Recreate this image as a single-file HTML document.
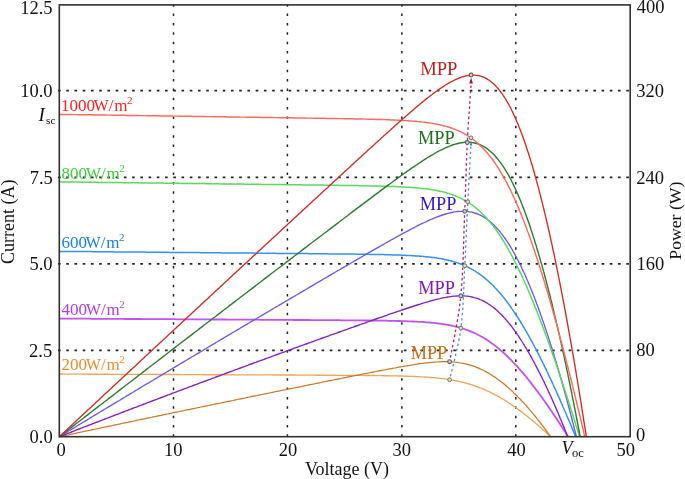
<!DOCTYPE html>
<html><head><meta charset="utf-8"><style>
html,body{margin:0;padding:0;background:#fff;}
svg{display:block;will-change:transform;}
text{font-family:"Liberation Serif",serif;}
</style></head><body>
<svg width="685" height="479" viewBox="0 0 685 479">
<rect width="685" height="479" fill="#fff"/>
<line x1="173.5" y1="4.25" x2="173.5" y2="436.70" stroke="#222" stroke-width="1.5" stroke-dasharray="2.5 6.85"/>
<line x1="287.4" y1="4.25" x2="287.4" y2="436.70" stroke="#222" stroke-width="1.5" stroke-dasharray="2.5 6.85"/>
<line x1="401.9" y1="4.25" x2="401.9" y2="436.70" stroke="#222" stroke-width="1.5" stroke-dasharray="2.5 6.85"/>
<line x1="515.8" y1="4.25" x2="515.8" y2="436.70" stroke="#222" stroke-width="1.5" stroke-dasharray="2.5 6.85"/>
<line x1="58.00" y1="90.7" x2="630.20" y2="90.7" stroke="#222" stroke-width="1.7" stroke-dasharray="2.6 5.636"/>
<line x1="58.00" y1="177.3" x2="630.20" y2="177.3" stroke="#222" stroke-width="1.7" stroke-dasharray="2.6 5.636"/>
<line x1="58.00" y1="263.8" x2="630.20" y2="263.8" stroke="#222" stroke-width="1.7" stroke-dasharray="2.6 5.636"/>
<line x1="58.00" y1="350.3" x2="630.20" y2="350.3" stroke="#222" stroke-width="1.7" stroke-dasharray="2.6 5.636"/>
<path d="M59.3,374.0 L60.8,374.0 L62.3,374.0 L63.9,374.1 L65.4,374.1 L66.9,374.1 L68.4,374.1 L70.0,374.1 L71.5,374.1 L73.0,374.1 L74.5,374.1 L76.0,374.1 L77.6,374.1 L79.1,374.1 L80.6,374.1 L82.1,374.1 L83.7,374.1 L85.2,374.1 L86.7,374.1 L88.2,374.2 L89.8,374.2 L91.3,374.2 L92.8,374.2 L94.3,374.2 L95.8,374.2 L97.4,374.2 L98.9,374.2 L100.4,374.2 L101.9,374.2 L103.5,374.2 L105.0,374.2 L106.5,374.2 L108.0,374.2 L109.5,374.2 L111.1,374.3 L112.6,374.3 L114.1,374.3 L115.6,374.3 L117.2,374.3 L118.7,374.3 L120.2,374.3 L121.7,374.3 L123.3,374.3 L124.8,374.3 L126.3,374.3 L127.8,374.3 L129.3,374.3 L130.9,374.3 L132.4,374.3 L133.9,374.4 L135.4,374.4 L137.0,374.4 L138.5,374.4 L140.0,374.4 L141.5,374.4 L143.0,374.4 L144.6,374.4 L146.1,374.4 L147.6,374.4 L149.1,374.4 L150.7,374.4 L152.2,374.4 L153.7,374.4 L155.2,374.4 L156.7,374.5 L158.3,374.5 L159.8,374.5 L161.3,374.5 L162.8,374.5 L164.4,374.5 L165.9,374.5 L167.4,374.5 L168.9,374.5 L170.5,374.5 L172.0,374.5 L173.5,374.5 L175.0,374.5 L176.5,374.5 L178.1,374.5 L179.6,374.5 L181.1,374.6 L182.6,374.6 L184.2,374.6 L185.7,374.6 L187.2,374.6 L188.7,374.6 L190.2,374.6 L191.8,374.6 L193.3,374.6 L194.8,374.6 L196.3,374.6 L197.9,374.6 L199.4,374.6 L200.9,374.6 L202.4,374.6 L204.0,374.7 L205.5,374.7 L207.0,374.7 L208.5,374.7 L210.0,374.7 L211.6,374.7 L213.1,374.7 L214.6,374.7 L216.1,374.7 L217.7,374.7 L219.2,374.7 L220.7,374.7 L222.2,374.7 L223.7,374.7 L225.3,374.7 L226.8,374.8 L228.3,374.8 L229.8,374.8 L231.4,374.8 L232.9,374.8 L234.4,374.8 L235.9,374.8 L237.4,374.8 L239.0,374.8 L240.5,374.8 L242.0,374.8 L243.5,374.8 L245.1,374.8 L246.6,374.8 L248.1,374.8 L249.6,374.9 L251.2,374.9 L252.7,374.9 L254.2,374.9 L255.7,374.9 L257.2,374.9 L258.8,374.9 L260.3,374.9 L261.8,374.9 L263.3,374.9 L264.9,374.9 L266.4,374.9 L267.9,374.9 L269.4,374.9 L270.9,374.9 L272.5,375.0 L274.0,375.0 L275.5,375.0 L277.0,375.0 L278.6,375.0 L280.1,375.0 L281.6,375.0 L283.1,375.0 L284.7,375.0 L286.2,375.0 L287.7,375.0 L289.2,375.0 L290.7,375.0 L292.3,375.0 L293.8,375.0 L295.3,375.1 L296.8,375.1 L298.4,375.1 L299.9,375.1 L301.4,375.1 L302.9,375.1 L304.4,375.1 L306.0,375.1 L307.5,375.1 L309.0,375.1 L310.5,375.1 L312.1,375.1 L313.6,375.1 L315.1,375.1 L316.6,375.2 L318.1,375.2 L319.7,375.2 L321.2,375.2 L322.7,375.2 L324.2,375.2 L325.8,375.2 L327.3,375.2 L328.8,375.2 L330.3,375.2 L331.9,375.2 L333.4,375.2 L334.9,375.2 L336.4,375.3 L337.9,375.3 L339.5,375.3 L341.0,375.3 L342.5,375.3 L344.0,375.3 L345.6,375.3 L347.1,375.3 L348.6,375.3 L350.1,375.3 L351.6,375.3 L353.2,375.4 L354.7,375.4 L356.2,375.4 L357.7,375.4 L359.3,375.4 L360.8,375.4 L362.3,375.4 L363.8,375.4 L365.4,375.5 L366.9,375.5 L368.4,375.5 L369.9,375.5 L371.4,375.5 L373.0,375.5 L374.5,375.5 L376.0,375.6 L377.5,375.6 L379.1,375.6 L380.6,375.6 L382.1,375.6 L383.6,375.7 L385.1,375.7 L386.7,375.7 L388.2,375.7 L389.7,375.8 L391.2,375.8 L392.8,375.8 L394.3,375.9 L395.8,375.9 L397.3,375.9 L398.8,376.0 L400.4,376.0 L401.9,376.0 L403.4,376.1 L404.9,376.1 L406.5,376.2 L408.0,376.2 L409.5,376.3 L411.0,376.3 L412.6,376.4 L414.1,376.5 L415.6,376.5 L417.1,376.6 L418.6,376.7 L420.2,376.8 L421.7,376.8 L423.2,376.9 L424.7,377.0 L426.3,377.1 L427.8,377.2 L429.3,377.4 L430.8,377.5 L432.3,377.6 L433.9,377.7 L435.4,377.9 L436.9,378.0 L438.4,378.2 L440.0,378.4 L441.5,378.5 L443.0,378.7 L444.5,378.9 L446.1,379.1 L447.6,379.4 L449.1,379.6 L450.6,379.9 L452.1,380.1 L453.7,380.4 L455.2,380.7 L456.7,381.0 L458.2,381.3 L459.8,381.6 L461.3,382.0 L462.8,382.3 L464.3,382.7 L465.8,383.1 L467.4,383.6 L468.9,384.0 L470.4,384.4 L471.9,384.9 L473.5,385.4 L475.0,385.9 L476.5,386.5 L478.0,387.0 L479.5,387.6 L481.1,388.2 L482.6,388.8 L484.1,389.5 L485.6,390.1 L487.2,390.8 L488.7,391.5 L490.2,392.2 L491.7,393.0 L493.3,393.8 L494.6,394.5 L495.9,395.2 L497.2,395.9 L498.6,396.6 L499.9,397.4 L501.2,398.2 L502.6,399.0 L503.9,399.8 L505.2,400.6 L506.6,401.4 L507.9,402.3 L509.2,403.2 L510.6,404.0 L511.9,404.9 L513.2,405.9 L514.6,406.8 L515.9,407.7 L517.2,408.7 L518.6,409.7 L519.9,410.6 L521.2,411.6 L522.6,412.7 L523.9,413.7 L525.2,414.7 L526.6,415.8 L527.9,416.8 L529.2,417.9 L530.6,419.0 L531.9,420.1 L533.2,421.2 L534.6,422.3 L535.9,423.5 L537.0,424.4 L538.2,425.4 L539.3,426.4 L540.5,427.4 L541.6,428.4 L542.7,429.5 L543.9,430.5 L545.0,431.5 L546.2,432.6 L547.3,433.6 L548.4,434.7 L549.6,435.7 L550.6,436.7" fill="none" stroke="#f0a45a" stroke-width="1.35"/>
<path d="M59.3,436.7 L60.8,436.4 L62.3,436.1 L63.9,435.7 L65.4,435.4 L66.9,435.1 L68.4,434.8 L70.0,434.4 L71.5,434.1 L73.0,433.8 L74.5,433.5 L76.0,433.2 L77.6,432.8 L79.1,432.5 L80.6,432.2 L82.1,431.9 L83.7,431.5 L85.2,431.2 L86.7,430.9 L88.2,430.6 L89.8,430.3 L91.3,429.9 L92.8,429.6 L94.3,429.3 L95.8,429.0 L97.4,428.7 L98.9,428.3 L100.4,428.0 L101.9,427.7 L103.5,427.4 L105.0,427.1 L106.5,426.7 L108.0,426.4 L109.5,426.1 L111.1,425.8 L112.6,425.5 L114.1,425.1 L115.6,424.8 L117.2,424.5 L118.7,424.2 L120.2,423.9 L121.7,423.5 L123.3,423.2 L124.8,422.9 L126.3,422.6 L127.8,422.3 L129.3,421.9 L130.9,421.6 L132.4,421.3 L133.9,421.0 L135.4,420.7 L137.0,420.3 L138.5,420.0 L140.0,419.7 L141.5,419.4 L143.0,419.1 L144.6,418.8 L146.1,418.4 L147.6,418.1 L149.1,417.8 L150.7,417.5 L152.2,417.2 L153.7,416.8 L155.2,416.5 L156.7,416.2 L158.3,415.9 L159.8,415.6 L161.3,415.3 L162.8,414.9 L164.4,414.6 L165.9,414.3 L167.4,414.0 L168.9,413.7 L170.5,413.4 L172.0,413.0 L173.5,412.7 L175.0,412.4 L176.5,412.1 L178.1,411.8 L179.6,411.5 L181.1,411.1 L182.6,410.8 L184.2,410.5 L185.7,410.2 L187.2,409.9 L188.7,409.6 L190.2,409.3 L191.8,408.9 L193.3,408.6 L194.8,408.3 L196.3,408.0 L197.9,407.7 L199.4,407.4 L200.9,407.0 L202.4,406.7 L204.0,406.4 L205.5,406.1 L207.0,405.8 L208.5,405.5 L210.0,405.2 L211.6,404.8 L213.1,404.5 L214.6,404.2 L216.1,403.9 L217.7,403.6 L219.2,403.3 L220.7,403.0 L222.2,402.6 L223.7,402.3 L225.3,402.0 L226.8,401.7 L228.3,401.4 L229.8,401.1 L231.4,400.8 L232.9,400.5 L234.4,400.1 L235.9,399.8 L237.4,399.5 L239.0,399.2 L240.5,398.9 L242.0,398.6 L243.5,398.3 L245.1,398.0 L246.6,397.6 L248.1,397.3 L249.6,397.0 L251.2,396.7 L252.7,396.4 L254.2,396.1 L255.7,395.8 L257.2,395.5 L258.8,395.1 L260.3,394.8 L261.8,394.5 L263.3,394.2 L264.9,393.9 L266.4,393.6 L267.9,393.3 L269.4,393.0 L270.9,392.7 L272.5,392.3 L274.0,392.0 L275.5,391.7 L277.0,391.4 L278.6,391.1 L280.1,390.8 L281.6,390.5 L283.1,390.2 L284.7,389.9 L286.2,389.6 L287.7,389.2 L289.2,388.9 L290.7,388.6 L292.3,388.3 L293.8,388.0 L295.3,387.7 L296.8,387.4 L298.4,387.1 L299.9,386.8 L301.4,386.5 L302.9,386.2 L304.4,385.8 L306.0,385.5 L307.5,385.2 L309.0,384.9 L310.5,384.6 L312.1,384.3 L313.6,384.0 L315.1,383.7 L316.6,383.4 L318.1,383.1 L319.7,382.8 L321.2,382.5 L322.7,382.1 L324.2,381.8 L325.8,381.5 L327.3,381.2 L328.8,380.9 L330.3,380.6 L331.9,380.3 L333.4,380.0 L334.9,379.7 L336.4,379.4 L337.9,379.1 L339.5,378.8 L341.0,378.5 L342.5,378.2 L344.0,377.9 L345.6,377.6 L347.1,377.2 L348.6,376.9 L350.1,376.6 L351.6,376.3 L353.2,376.0 L354.7,375.7 L356.2,375.4 L357.7,375.1 L359.3,374.8 L360.8,374.5 L362.3,374.2 L363.8,373.9 L365.4,373.6 L366.9,373.3 L368.4,373.0 L369.9,372.7 L371.4,372.4 L373.0,372.1 L374.5,371.8 L376.0,371.5 L377.5,371.2 L379.1,370.9 L380.6,370.6 L382.1,370.3 L383.6,370.0 L385.1,369.8 L386.7,369.5 L388.2,369.2 L389.7,368.9 L391.2,368.6 L392.8,368.3 L394.3,368.0 L395.8,367.8 L397.3,367.5 L398.8,367.2 L400.4,366.9 L401.9,366.7 L403.4,366.4 L404.9,366.1 L406.5,365.9 L408.0,365.6 L409.5,365.4 L411.0,365.1 L412.6,364.9 L414.1,364.6 L415.6,364.4 L417.1,364.2 L418.6,363.9 L420.2,363.7 L421.7,363.5 L423.2,363.3 L424.7,363.1 L426.3,362.9 L427.8,362.8 L429.3,362.6 L430.8,362.4 L432.3,362.3 L433.9,362.2 L435.4,362.1 L436.9,362.0 L438.4,361.9 L440.0,361.8 L441.5,361.7 L443.0,361.7 L444.5,361.7 L446.1,361.7 L447.6,361.7 L449.1,361.8 L450.6,361.8 L452.1,361.9 L453.7,362.0 L455.2,362.2 L456.7,362.3 L458.2,362.5 L459.8,362.8 L461.3,363.0 L462.8,363.3 L464.3,363.6 L465.8,363.9 L467.4,364.3 L468.9,364.7 L470.4,365.2 L471.9,365.6 L473.5,366.2 L475.0,366.7 L476.5,367.3 L478.0,367.9 L479.5,368.6 L481.1,369.3 L482.6,370.0 L484.1,370.7 L485.4,371.4 L486.8,372.2 L488.1,372.9 L489.4,373.7 L490.8,374.5 L492.1,375.4 L493.4,376.2 L494.8,377.1 L496.1,378.0 L497.4,379.0 L498.8,380.0 L500.1,381.0 L501.4,382.0 L502.8,383.0 L504.1,384.1 L505.4,385.2 L506.8,386.4 L507.9,387.3 L509.1,388.4 L510.2,389.4 L511.3,390.4 L512.5,391.5 L513.6,392.6 L514.8,393.7 L515.9,394.8 L517.0,395.9 L518.2,397.1 L519.3,398.3 L520.5,399.5 L521.6,400.7 L522.8,401.9 L523.9,403.1 L525.0,404.4 L526.2,405.7 L527.3,407.0 L528.5,408.3 L529.6,409.6 L530.7,410.9 L531.9,412.3 L533.0,413.7 L534.2,415.1 L535.1,416.2 L536.1,417.4 L537.0,418.6 L538.0,419.8 L538.9,421.0 L539.9,422.2 L540.8,423.5 L541.8,424.7 L542.7,426.0 L543.7,427.2 L544.6,428.5 L545.6,429.8 L546.5,431.1 L547.5,432.4 L548.4,433.7 L549.4,435.0 L550.4,436.4 L550.6,436.7" fill="none" stroke="#cf7628" stroke-width="1.25"/>
<path d="M59.3,318.6 L60.8,318.6 L62.3,318.6 L63.9,318.6 L65.4,318.6 L66.9,318.6 L68.4,318.6 L70.0,318.6 L71.5,318.6 L73.0,318.6 L74.5,318.7 L76.0,318.7 L77.6,318.7 L79.1,318.7 L80.6,318.7 L82.1,318.7 L83.7,318.7 L85.2,318.7 L86.7,318.7 L88.2,318.7 L89.8,318.7 L91.3,318.8 L92.8,318.8 L94.3,318.8 L95.8,318.8 L97.4,318.8 L98.9,318.8 L100.4,318.8 L101.9,318.8 L103.5,318.8 L105.0,318.8 L106.5,318.8 L108.0,318.9 L109.5,318.9 L111.1,318.9 L112.6,318.9 L114.1,318.9 L115.6,318.9 L117.2,318.9 L118.7,318.9 L120.2,318.9 L121.7,318.9 L123.3,318.9 L124.8,319.0 L126.3,319.0 L127.8,319.0 L129.3,319.0 L130.9,319.0 L132.4,319.0 L133.9,319.0 L135.4,319.0 L137.0,319.0 L138.5,319.0 L140.0,319.0 L141.5,319.0 L143.0,319.1 L144.6,319.1 L146.1,319.1 L147.6,319.1 L149.1,319.1 L150.7,319.1 L152.2,319.1 L153.7,319.1 L155.2,319.1 L156.7,319.1 L158.3,319.1 L159.8,319.2 L161.3,319.2 L162.8,319.2 L164.4,319.2 L165.9,319.2 L167.4,319.2 L168.9,319.2 L170.5,319.2 L172.0,319.2 L173.5,319.2 L175.0,319.2 L176.5,319.3 L178.1,319.3 L179.6,319.3 L181.1,319.3 L182.6,319.3 L184.2,319.3 L185.7,319.3 L187.2,319.3 L188.7,319.3 L190.2,319.3 L191.8,319.3 L193.3,319.4 L194.8,319.4 L196.3,319.4 L197.9,319.4 L199.4,319.4 L200.9,319.4 L202.4,319.4 L204.0,319.4 L205.5,319.4 L207.0,319.4 L208.5,319.4 L210.0,319.5 L211.6,319.5 L213.1,319.5 L214.6,319.5 L216.1,319.5 L217.7,319.5 L219.2,319.5 L220.7,319.5 L222.2,319.5 L223.7,319.5 L225.3,319.5 L226.8,319.6 L228.3,319.6 L229.8,319.6 L231.4,319.6 L232.9,319.6 L234.4,319.6 L235.9,319.6 L237.4,319.6 L239.0,319.6 L240.5,319.6 L242.0,319.6 L243.5,319.7 L245.1,319.7 L246.6,319.7 L248.1,319.7 L249.6,319.7 L251.2,319.7 L252.7,319.7 L254.2,319.7 L255.7,319.7 L257.2,319.7 L258.8,319.7 L260.3,319.8 L261.8,319.8 L263.3,319.8 L264.9,319.8 L266.4,319.8 L267.9,319.8 L269.4,319.8 L270.9,319.8 L272.5,319.8 L274.0,319.8 L275.5,319.8 L277.0,319.9 L278.6,319.9 L280.1,319.9 L281.6,319.9 L283.1,319.9 L284.7,319.9 L286.2,319.9 L287.7,319.9 L289.2,319.9 L290.7,319.9 L292.3,319.9 L293.8,320.0 L295.3,320.0 L296.8,320.0 L298.4,320.0 L299.9,320.0 L301.4,320.0 L302.9,320.0 L304.4,320.0 L306.0,320.0 L307.5,320.0 L309.0,320.0 L310.5,320.1 L312.1,320.1 L313.6,320.1 L315.1,320.1 L316.6,320.1 L318.1,320.1 L319.7,320.1 L321.2,320.1 L322.7,320.1 L324.2,320.1 L325.8,320.2 L327.3,320.2 L328.8,320.2 L330.3,320.2 L331.9,320.2 L333.4,320.2 L334.9,320.2 L336.4,320.2 L337.9,320.2 L339.5,320.2 L341.0,320.3 L342.5,320.3 L344.0,320.3 L345.6,320.3 L347.1,320.3 L348.6,320.3 L350.1,320.3 L351.6,320.3 L353.2,320.3 L354.7,320.4 L356.2,320.4 L357.7,320.4 L359.3,320.4 L360.8,320.4 L362.3,320.4 L363.8,320.4 L365.4,320.5 L366.9,320.5 L368.4,320.5 L369.9,320.5 L371.4,320.5 L373.0,320.5 L374.5,320.6 L376.0,320.6 L377.5,320.6 L379.1,320.6 L380.6,320.6 L382.1,320.7 L383.6,320.7 L385.1,320.7 L386.7,320.7 L388.2,320.8 L389.7,320.8 L391.2,320.8 L392.8,320.9 L394.3,320.9 L395.8,320.9 L397.3,321.0 L398.8,321.0 L400.4,321.0 L401.9,321.1 L403.4,321.1 L404.9,321.2 L406.5,321.2 L408.0,321.3 L409.5,321.3 L411.0,321.4 L412.6,321.5 L414.1,321.5 L415.6,321.6 L417.1,321.7 L418.6,321.8 L420.2,321.8 L421.7,321.9 L423.2,322.0 L424.7,322.1 L426.3,322.3 L427.8,322.4 L429.3,322.5 L430.8,322.6 L432.3,322.8 L433.9,322.9 L435.4,323.1 L436.9,323.3 L438.4,323.5 L440.0,323.7 L441.5,323.9 L443.0,324.1 L444.5,324.3 L446.1,324.6 L447.6,324.8 L449.1,325.1 L450.6,325.4 L452.1,325.7 L453.7,326.1 L455.2,326.4 L456.7,326.8 L458.2,327.2 L459.8,327.6 L461.3,328.1 L462.8,328.5 L464.3,329.0 L465.8,329.6 L467.4,330.1 L468.9,330.7 L470.4,331.3 L471.9,331.9 L473.5,332.6 L475.0,333.3 L476.5,334.0 L478.0,334.8 L479.4,335.5 L480.7,336.2 L482.0,336.9 L483.4,337.7 L484.7,338.5 L486.0,339.3 L487.4,340.2 L488.7,341.1 L490.0,342.0 L491.3,342.9 L492.7,343.9 L494.0,344.9 L495.3,345.9 L496.7,346.9 L498.0,348.0 L499.3,349.1 L500.7,350.3 L501.8,351.3 L503.0,352.3 L504.1,353.3 L505.2,354.3 L506.4,355.4 L507.5,356.5 L508.7,357.6 L509.8,358.8 L511.0,359.9 L512.1,361.1 L513.2,362.3 L514.4,363.5 L515.5,364.7 L516.7,365.9 L517.8,367.2 L518.9,368.5 L520.1,369.8 L521.2,371.1 L522.4,372.4 L523.5,373.7 L524.7,375.1 L525.8,376.5 L526.8,377.6 L527.7,378.8 L528.7,380.0 L529.6,381.2 L530.6,382.4 L531.5,383.6 L532.5,384.8 L533.4,386.1 L534.4,387.3 L535.3,388.6 L536.3,389.8 L537.2,391.1 L538.2,392.4 L539.1,393.7 L540.1,395.0 L541.0,396.3 L542.0,397.6 L542.9,398.9 L543.9,400.2 L544.8,401.6 L545.8,402.9 L546.7,404.3 L547.7,405.7 L548.6,407.0 L549.6,408.4 L550.5,409.8 L551.5,411.2 L552.4,412.6 L553.4,414.0 L554.3,415.5 L555.3,416.9 L556.3,418.3 L557.2,419.8 L558.2,421.2 L559.1,422.7 L560.1,424.1 L561.0,425.6 L562.0,427.1 L562.9,428.6 L563.9,430.0 L564.8,431.5 L565.8,433.0 L566.7,434.5 L567.7,436.1 L568.1,436.7" fill="none" stroke="#c451f0" stroke-width="1.8"/>
<path d="M59.3,436.7 L60.8,436.1 L62.3,435.5 L63.9,434.9 L65.4,434.3 L66.9,433.7 L68.4,433.1 L70.0,432.6 L71.5,432.0 L73.0,431.4 L74.5,430.8 L76.0,430.2 L77.6,429.6 L79.1,429.0 L80.6,428.4 L82.1,427.8 L83.7,427.2 L85.2,426.7 L86.7,426.1 L88.2,425.5 L89.8,424.9 L91.3,424.3 L92.8,423.7 L94.3,423.1 L95.8,422.5 L97.4,422.0 L98.9,421.4 L100.4,420.8 L101.9,420.2 L103.5,419.6 L105.0,419.0 L106.5,418.4 L108.0,417.9 L109.5,417.3 L111.1,416.7 L112.6,416.1 L114.1,415.5 L115.6,414.9 L117.2,414.3 L118.7,413.8 L120.2,413.2 L121.7,412.6 L123.3,412.0 L124.8,411.4 L126.3,410.9 L127.8,410.3 L129.3,409.7 L130.9,409.1 L132.4,408.5 L133.9,407.9 L135.4,407.4 L137.0,406.8 L138.5,406.2 L140.0,405.6 L141.5,405.1 L143.0,404.5 L144.6,403.9 L146.1,403.3 L147.6,402.7 L149.1,402.2 L150.7,401.6 L152.2,401.0 L153.7,400.4 L155.2,399.8 L156.7,399.3 L158.3,398.7 L159.8,398.1 L161.3,397.5 L162.8,397.0 L164.4,396.4 L165.9,395.8 L167.4,395.2 L168.9,394.7 L170.5,394.1 L172.0,393.5 L173.5,392.9 L175.0,392.4 L176.5,391.8 L178.1,391.2 L179.6,390.7 L181.1,390.1 L182.6,389.5 L184.2,388.9 L185.7,388.4 L187.2,387.8 L188.7,387.2 L190.2,386.7 L191.8,386.1 L193.3,385.5 L194.8,384.9 L196.3,384.4 L197.9,383.8 L199.4,383.2 L200.9,382.7 L202.4,382.1 L204.0,381.5 L205.5,381.0 L207.0,380.4 L208.5,379.8 L210.0,379.3 L211.6,378.7 L213.1,378.1 L214.6,377.6 L216.1,377.0 L217.7,376.4 L219.2,375.9 L220.7,375.3 L222.2,374.7 L223.7,374.2 L225.3,373.6 L226.8,373.0 L228.3,372.5 L229.8,371.9 L231.4,371.3 L232.9,370.8 L234.4,370.2 L235.9,369.6 L237.4,369.1 L239.0,368.5 L240.5,368.0 L242.0,367.4 L243.5,366.8 L245.1,366.3 L246.6,365.7 L248.1,365.2 L249.6,364.6 L251.2,364.0 L252.7,363.5 L254.2,362.9 L255.7,362.4 L257.2,361.8 L258.8,361.2 L260.3,360.7 L261.8,360.1 L263.3,359.6 L264.9,359.0 L266.4,358.4 L267.9,357.9 L269.4,357.3 L270.9,356.8 L272.5,356.2 L274.0,355.7 L275.5,355.1 L277.0,354.5 L278.6,354.0 L280.1,353.4 L281.6,352.9 L283.1,352.3 L284.7,351.8 L286.2,351.2 L287.7,350.7 L289.2,350.1 L290.7,349.6 L292.3,349.0 L293.8,348.4 L295.3,347.9 L296.8,347.3 L298.4,346.8 L299.9,346.2 L301.4,345.7 L302.9,345.1 L304.4,344.6 L306.0,344.0 L307.5,343.5 L309.0,342.9 L310.5,342.4 L312.1,341.8 L313.6,341.3 L315.1,340.7 L316.6,340.2 L318.1,339.6 L319.7,339.1 L321.2,338.5 L322.7,338.0 L324.2,337.4 L325.8,336.9 L327.3,336.3 L328.8,335.8 L330.3,335.2 L331.9,334.7 L333.4,334.2 L334.9,333.6 L336.4,333.1 L337.9,332.5 L339.5,332.0 L341.0,331.4 L342.5,330.9 L344.0,330.3 L345.6,329.8 L347.1,329.3 L348.6,328.7 L350.1,328.2 L351.6,327.6 L353.2,327.1 L354.7,326.5 L356.2,326.0 L357.7,325.5 L359.3,324.9 L360.8,324.4 L362.3,323.8 L363.8,323.3 L365.4,322.8 L366.9,322.2 L368.4,321.7 L369.9,321.1 L371.4,320.6 L373.0,320.1 L374.5,319.5 L376.0,319.0 L377.5,318.5 L379.1,317.9 L380.6,317.4 L382.1,316.9 L383.6,316.3 L385.1,315.8 L386.7,315.3 L388.2,314.7 L389.7,314.2 L391.2,313.7 L392.8,313.2 L394.3,312.6 L395.8,312.1 L397.3,311.6 L398.8,311.1 L400.4,310.6 L401.9,310.0 L403.4,309.5 L404.9,309.0 L406.5,308.5 L408.0,308.0 L409.5,307.5 L411.0,307.0 L412.6,306.5 L414.1,306.0 L415.6,305.5 L417.1,305.0 L418.6,304.5 L420.2,304.1 L421.7,303.6 L423.2,303.1 L424.7,302.7 L426.3,302.2 L427.8,301.8 L429.3,301.3 L430.8,300.9 L432.3,300.5 L433.9,300.1 L435.4,299.7 L436.9,299.3 L438.4,298.9 L440.0,298.6 L441.5,298.2 L443.0,297.9 L444.5,297.6 L446.1,297.3 L447.6,297.0 L449.1,296.8 L450.6,296.6 L452.1,296.4 L453.7,296.2 L455.2,296.1 L456.7,296.0 L458.2,295.9 L459.8,295.8 L461.3,295.8 L462.8,295.9 L464.3,295.9 L465.8,296.1 L467.4,296.2 L468.9,296.4 L470.4,296.7 L471.9,297.0 L473.5,297.3 L475.0,297.8 L476.5,298.2 L478.0,298.7 L479.5,299.3 L481.1,300.0 L482.6,300.7 L484.1,301.4 L485.4,302.2 L486.8,302.9 L488.1,303.8 L489.4,304.6 L490.8,305.5 L492.1,306.5 L493.4,307.5 L494.8,308.6 L496.1,309.7 L497.2,310.7 L498.4,311.8 L499.5,312.9 L500.7,314.0 L501.8,315.1 L503.0,316.3 L504.1,317.6 L505.2,318.8 L506.4,320.1 L507.5,321.5 L508.7,322.9 L509.6,324.0 L510.6,325.2 L511.5,326.4 L512.5,327.7 L513.4,329.0 L514.4,330.3 L515.3,331.6 L516.3,332.9 L517.2,334.3 L518.2,335.7 L519.1,337.1 L520.1,338.6 L521.0,340.0 L522.0,341.5 L522.9,343.0 L523.9,344.5 L524.8,346.1 L525.8,347.7 L526.8,349.3 L527.5,350.6 L528.3,351.9 L529.0,353.2 L529.8,354.5 L530.6,355.9 L531.3,357.2 L532.1,358.6 L532.8,360.0 L533.6,361.4 L534.4,362.8 L535.1,364.2 L535.9,365.7 L536.6,367.1 L537.4,368.6 L538.2,370.1 L538.9,371.6 L539.7,373.1 L540.5,374.6 L541.2,376.1 L542.0,377.7 L542.7,379.2 L543.5,380.8 L544.3,382.4 L545.0,384.0 L545.8,385.6 L546.5,387.2 L547.3,388.8 L548.1,390.5 L548.8,392.1 L549.6,393.8 L550.4,395.5 L551.1,397.1 L551.9,398.8 L552.6,400.5 L553.4,402.3 L554.2,404.0 L554.9,405.7 L555.7,407.5 L556.4,409.3 L557.2,411.1 L558.0,412.8 L558.7,414.6 L559.5,416.5 L560.2,418.3 L561.0,420.1 L561.8,422.0 L562.3,423.3 L562.9,424.7 L563.5,426.1 L564.1,427.5 L564.6,429.0 L565.2,430.4 L565.8,431.8 L566.3,433.2 L566.9,434.7 L567.5,436.1 L567.7,436.7" fill="none" stroke="#8420c8" stroke-width="1.35"/>
<path d="M59.3,251.4 L60.8,251.4 L62.3,251.4 L63.9,251.4 L65.4,251.4 L66.9,251.4 L68.4,251.4 L70.0,251.5 L71.5,251.5 L73.0,251.5 L74.5,251.5 L76.0,251.5 L77.6,251.5 L79.1,251.5 L80.6,251.6 L82.1,251.6 L83.7,251.6 L85.2,251.6 L86.7,251.6 L88.2,251.6 L89.8,251.6 L91.3,251.6 L92.8,251.7 L94.3,251.7 L95.8,251.7 L97.4,251.7 L98.9,251.7 L100.4,251.7 L101.9,251.7 L103.5,251.8 L105.0,251.8 L106.5,251.8 L108.0,251.8 L109.5,251.8 L111.1,251.8 L112.6,251.8 L114.1,251.9 L115.6,251.9 L117.2,251.9 L118.7,251.9 L120.2,251.9 L121.7,251.9 L123.3,251.9 L124.8,252.0 L126.3,252.0 L127.8,252.0 L129.3,252.0 L130.9,252.0 L132.4,252.0 L133.9,252.0 L135.4,252.1 L137.0,252.1 L138.5,252.1 L140.0,252.1 L141.5,252.1 L143.0,252.1 L144.6,252.1 L146.1,252.2 L147.6,252.2 L149.1,252.2 L150.7,252.2 L152.2,252.2 L153.7,252.2 L155.2,252.2 L156.7,252.3 L158.3,252.3 L159.8,252.3 L161.3,252.3 L162.8,252.3 L164.4,252.3 L165.9,252.3 L167.4,252.3 L168.9,252.4 L170.5,252.4 L172.0,252.4 L173.5,252.4 L175.0,252.4 L176.5,252.4 L178.1,252.4 L179.6,252.5 L181.1,252.5 L182.6,252.5 L184.2,252.5 L185.7,252.5 L187.2,252.5 L188.7,252.5 L190.2,252.6 L191.8,252.6 L193.3,252.6 L194.8,252.6 L196.3,252.6 L197.9,252.6 L199.4,252.6 L200.9,252.7 L202.4,252.7 L204.0,252.7 L205.5,252.7 L207.0,252.7 L208.5,252.7 L210.0,252.7 L211.6,252.8 L213.1,252.8 L214.6,252.8 L216.1,252.8 L217.7,252.8 L219.2,252.8 L220.7,252.8 L222.2,252.9 L223.7,252.9 L225.3,252.9 L226.8,252.9 L228.3,252.9 L229.8,252.9 L231.4,252.9 L232.9,253.0 L234.4,253.0 L235.9,253.0 L237.4,253.0 L239.0,253.0 L240.5,253.0 L242.0,253.0 L243.5,253.0 L245.1,253.1 L246.6,253.1 L248.1,253.1 L249.6,253.1 L251.2,253.1 L252.7,253.1 L254.2,253.1 L255.7,253.2 L257.2,253.2 L258.8,253.2 L260.3,253.2 L261.8,253.2 L263.3,253.2 L264.9,253.2 L266.4,253.3 L267.9,253.3 L269.4,253.3 L270.9,253.3 L272.5,253.3 L274.0,253.3 L275.5,253.3 L277.0,253.4 L278.6,253.4 L280.1,253.4 L281.6,253.4 L283.1,253.4 L284.7,253.4 L286.2,253.4 L287.7,253.5 L289.2,253.5 L290.7,253.5 L292.3,253.5 L293.8,253.5 L295.3,253.5 L296.8,253.5 L298.4,253.6 L299.9,253.6 L301.4,253.6 L302.9,253.6 L304.4,253.6 L306.0,253.6 L307.5,253.6 L309.0,253.7 L310.5,253.7 L312.1,253.7 L313.6,253.7 L315.1,253.7 L316.6,253.7 L318.1,253.7 L319.7,253.8 L321.2,253.8 L322.7,253.8 L324.2,253.8 L325.8,253.8 L327.3,253.8 L328.8,253.9 L330.3,253.9 L331.9,253.9 L333.4,253.9 L334.9,253.9 L336.4,253.9 L337.9,253.9 L339.5,254.0 L341.0,254.0 L342.5,254.0 L344.0,254.0 L345.6,254.0 L347.1,254.1 L348.6,254.1 L350.1,254.1 L351.6,254.1 L353.2,254.1 L354.7,254.1 L356.2,254.2 L357.7,254.2 L359.3,254.2 L360.8,254.2 L362.3,254.2 L363.8,254.3 L365.4,254.3 L366.9,254.3 L368.4,254.3 L369.9,254.4 L371.4,254.4 L373.0,254.4 L374.5,254.4 L376.0,254.5 L377.5,254.5 L379.1,254.5 L380.6,254.6 L382.1,254.6 L383.6,254.6 L385.1,254.7 L386.7,254.7 L388.2,254.7 L389.7,254.8 L391.2,254.8 L392.8,254.9 L394.3,254.9 L395.8,254.9 L397.3,255.0 L398.8,255.0 L400.4,255.1 L401.9,255.2 L403.4,255.2 L404.9,255.3 L406.5,255.4 L408.0,255.4 L409.5,255.5 L411.0,255.6 L412.6,255.7 L414.1,255.8 L415.6,255.9 L417.1,256.0 L418.6,256.1 L420.2,256.2 L421.7,256.3 L423.2,256.4 L424.7,256.6 L426.3,256.7 L427.8,256.9 L429.3,257.0 L430.8,257.2 L432.3,257.4 L433.9,257.6 L435.4,257.8 L436.9,258.1 L438.4,258.3 L440.0,258.5 L441.5,258.8 L443.0,259.1 L444.5,259.4 L446.1,259.7 L447.6,260.1 L449.1,260.4 L450.6,260.8 L452.1,261.2 L453.7,261.7 L455.2,262.1 L456.7,262.6 L458.2,263.1 L459.8,263.7 L461.3,264.3 L462.8,264.9 L464.3,265.5 L465.8,266.2 L467.4,266.9 L468.9,267.7 L470.2,268.4 L471.6,269.1 L472.9,269.8 L474.2,270.6 L475.6,271.4 L476.9,272.3 L478.2,273.2 L479.5,274.1 L480.9,275.1 L482.2,276.0 L483.5,277.1 L484.9,278.2 L486.2,279.3 L487.4,280.2 L488.5,281.3 L489.6,282.3 L490.8,283.4 L491.9,284.5 L493.1,285.6 L494.2,286.8 L495.3,288.0 L496.5,289.2 L497.6,290.4 L498.8,291.7 L499.9,293.0 L501.1,294.4 L502.2,295.8 L503.1,296.9 L504.1,298.1 L505.1,299.3 L506.0,300.6 L507.0,301.8 L507.9,303.1 L508.9,304.4 L509.8,305.7 L510.8,307.0 L511.7,308.4 L512.7,309.8 L513.6,311.2 L514.6,312.6 L515.5,314.0 L516.5,315.5 L517.4,316.9 L518.4,318.4 L519.3,319.9 L520.3,321.5 L521.2,323.0 L522.2,324.6 L523.1,326.2 L524.1,327.8 L524.8,329.1 L525.6,330.4 L526.4,331.7 L527.1,333.1 L527.9,334.4 L528.7,335.8 L529.4,337.1 L530.2,338.5 L530.9,339.9 L531.7,341.3 L532.5,342.7 L533.2,344.1 L534.0,345.5 L534.7,347.0 L535.5,348.4 L536.3,349.9 L537.0,351.4 L537.8,352.8 L538.6,354.3 L539.3,355.8 L540.1,357.3 L540.8,358.9 L541.6,360.4 L542.4,361.9 L543.1,363.5 L543.9,365.0 L544.6,366.6 L545.4,368.2 L546.2,369.7 L546.9,371.3 L547.7,372.9 L548.4,374.5 L549.2,376.1 L550.0,377.8 L550.7,379.4 L551.5,381.0 L552.3,382.7 L553.0,384.3 L553.8,386.0 L554.5,387.7 L555.3,389.3 L556.1,391.0 L556.8,392.7 L557.6,394.4 L558.3,396.1 L559.1,397.8 L559.9,399.5 L560.6,401.3 L561.4,403.0 L562.2,404.7 L562.9,406.5 L563.7,408.2 L564.4,410.0 L565.2,411.8 L566.0,413.5 L566.7,415.3 L567.5,417.1 L568.2,418.9 L569.0,420.7 L569.8,422.5 L570.5,424.3 L571.3,426.1 L572.0,427.9 L572.8,429.8 L573.6,431.6 L574.3,433.4 L575.1,435.3 L575.7,436.7" fill="none" stroke="#3590f0" stroke-width="1.5"/>
<path d="M59.3,436.7 L60.6,435.9 L62.0,435.1 L63.3,434.3 L64.6,433.5 L66.0,432.7 L67.3,431.9 L68.6,431.0 L70.0,430.2 L71.3,429.4 L72.6,428.6 L74.0,427.8 L75.3,427.0 L76.6,426.2 L78.0,425.4 L79.3,424.6 L80.6,423.8 L81.9,423.0 L83.3,422.2 L84.6,421.4 L85.9,420.6 L87.3,419.8 L88.6,419.0 L89.9,418.1 L91.3,417.3 L92.6,416.5 L93.9,415.7 L95.3,414.9 L96.6,414.1 L97.9,413.3 L99.3,412.5 L100.6,411.7 L101.9,410.9 L103.3,410.1 L104.6,409.3 L105.9,408.5 L107.3,407.7 L108.6,406.9 L109.9,406.1 L111.3,405.3 L112.6,404.5 L113.9,403.7 L115.3,402.9 L116.6,402.1 L117.9,401.3 L119.3,400.5 L120.6,399.7 L121.9,398.9 L123.3,398.1 L124.6,397.3 L125.9,396.5 L127.2,395.7 L128.6,394.9 L129.9,394.1 L131.2,393.3 L132.6,392.5 L133.9,391.7 L135.2,390.8 L136.6,390.0 L137.9,389.2 L139.2,388.4 L140.6,387.6 L141.9,386.8 L143.2,386.0 L144.6,385.2 L145.9,384.4 L147.2,383.6 L148.6,382.9 L149.9,382.1 L151.2,381.3 L152.6,380.5 L153.9,379.7 L155.2,378.9 L156.6,378.1 L157.9,377.3 L159.2,376.5 L160.6,375.7 L161.9,374.9 L163.2,374.1 L164.6,373.3 L165.9,372.5 L167.2,371.7 L168.5,370.9 L169.9,370.1 L171.2,369.3 L172.5,368.5 L173.9,367.7 L175.2,366.9 L176.5,366.1 L177.9,365.3 L179.2,364.5 L180.5,363.7 L181.9,362.9 L183.2,362.1 L184.5,361.3 L185.9,360.5 L187.2,359.7 L188.5,358.9 L189.9,358.1 L191.2,357.3 L192.5,356.5 L193.9,355.8 L195.2,355.0 L196.5,354.2 L197.9,353.4 L199.2,352.6 L200.5,351.8 L201.9,351.0 L203.2,350.2 L204.5,349.4 L205.9,348.6 L207.2,347.8 L208.5,347.0 L209.9,346.2 L211.2,345.4 L212.5,344.6 L213.8,343.9 L215.2,343.1 L216.5,342.3 L217.8,341.5 L219.2,340.7 L220.5,339.9 L221.8,339.1 L223.2,338.3 L224.5,337.5 L225.8,336.7 L227.2,335.9 L228.5,335.1 L229.8,334.3 L231.2,333.6 L232.5,332.8 L233.8,332.0 L235.2,331.2 L236.5,330.4 L237.8,329.6 L239.2,328.8 L240.5,328.0 L241.8,327.2 L243.2,326.4 L244.5,325.7 L245.8,324.9 L247.2,324.1 L248.5,323.3 L249.8,322.5 L251.2,321.7 L252.5,320.9 L253.8,320.1 L255.1,319.3 L256.5,318.6 L257.8,317.8 L259.1,317.0 L260.5,316.2 L261.8,315.4 L263.1,314.6 L264.5,313.8 L265.8,313.0 L267.1,312.3 L268.5,311.5 L269.8,310.7 L271.1,309.9 L272.5,309.1 L273.8,308.3 L275.1,307.5 L276.5,306.7 L277.8,306.0 L279.1,305.2 L280.5,304.4 L281.8,303.6 L283.1,302.8 L284.5,302.0 L285.8,301.2 L287.1,300.5 L288.5,299.7 L289.8,298.9 L291.1,298.1 L292.5,297.3 L293.8,296.5 L295.1,295.8 L296.5,295.0 L297.8,294.2 L299.1,293.4 L300.4,292.6 L301.8,291.8 L303.1,291.1 L304.4,290.3 L305.8,289.5 L307.1,288.7 L308.4,287.9 L309.8,287.1 L311.1,286.4 L312.4,285.6 L313.8,284.8 L315.1,284.0 L316.4,283.2 L317.8,282.4 L319.1,281.7 L320.4,280.9 L321.8,280.1 L323.1,279.3 L324.4,278.5 L325.8,277.8 L327.1,277.0 L328.4,276.2 L329.8,275.4 L331.1,274.6 L332.4,273.9 L333.8,273.1 L335.1,272.3 L336.4,271.5 L337.8,270.7 L339.1,270.0 L340.4,269.2 L341.7,268.4 L343.1,267.6 L344.4,266.9 L345.7,266.1 L347.1,265.3 L348.4,264.5 L349.7,263.8 L351.1,263.0 L352.4,262.2 L353.7,261.4 L355.1,260.7 L356.4,259.9 L357.7,259.1 L359.1,258.3 L360.4,257.6 L361.7,256.8 L363.1,256.0 L364.4,255.3 L365.7,254.5 L367.1,253.7 L368.4,252.9 L369.7,252.2 L371.1,251.4 L372.4,250.6 L373.7,249.9 L375.1,249.1 L376.4,248.4 L377.7,247.6 L379.1,246.8 L380.4,246.1 L381.7,245.3 L383.1,244.6 L384.4,243.8 L385.7,243.0 L387.0,242.3 L388.4,241.5 L389.7,240.8 L391.0,240.0 L392.4,239.3 L393.7,238.6 L395.0,237.8 L396.4,237.1 L397.7,236.3 L399.0,235.6 L400.4,234.9 L401.7,234.1 L403.0,233.4 L404.4,232.7 L405.7,232.0 L407.0,231.3 L408.4,230.6 L409.7,229.9 L411.0,229.2 L412.4,228.5 L413.7,227.8 L415.2,227.0 L416.7,226.2 L418.3,225.4 L419.8,224.7 L421.3,223.9 L422.8,223.2 L424.4,222.5 L425.9,221.8 L427.4,221.1 L428.9,220.4 L430.4,219.7 L432.0,219.0 L433.5,218.4 L435.0,217.8 L436.5,217.2 L438.1,216.6 L439.6,216.0 L441.1,215.5 L442.6,215.0 L444.1,214.5 L445.7,214.0 L447.2,213.6 L448.7,213.2 L450.2,212.8 L451.8,212.5 L453.3,212.2 L454.8,211.9 L456.3,211.7 L457.9,211.5 L459.4,211.4 L460.9,211.3 L462.4,211.3 L463.9,211.3 L465.5,211.3 L467.0,211.4 L468.5,211.6 L470.0,211.9 L471.6,212.2 L473.1,212.5 L474.6,213.0 L476.1,213.5 L477.6,214.0 L479.2,214.7 L480.7,215.4 L482.0,216.1 L483.4,216.9 L484.7,217.7 L486.0,218.5 L487.4,219.5 L488.7,220.5 L490.0,221.6 L491.2,222.5 L492.3,223.6 L493.4,224.6 L494.6,225.8 L495.7,226.9 L496.9,228.2 L498.0,229.4 L499.2,230.8 L500.3,232.2 L501.2,233.3 L502.2,234.6 L503.1,235.8 L504.1,237.1 L505.1,238.5 L506.0,239.9 L507.0,241.3 L507.9,242.7 L508.9,244.2 L509.8,245.7 L510.8,247.3 L511.7,248.9 L512.5,250.2 L513.2,251.5 L514.0,252.8 L514.8,254.2 L515.5,255.6 L516.3,257.0 L517.0,258.5 L517.8,260.0 L518.6,261.4 L519.3,263.0 L520.1,264.5 L520.9,266.0 L521.6,267.6 L522.4,269.2 L523.1,270.9 L523.9,272.5 L524.7,274.2 L525.4,275.9 L526.2,277.6 L526.9,279.3 L527.7,281.1 L528.5,282.9 L529.2,284.7 L530.0,286.5 L530.6,287.9 L531.1,289.3 L531.7,290.7 L532.3,292.2 L532.8,293.6 L533.4,295.0 L534.0,296.5 L534.6,298.0 L535.1,299.5 L535.7,301.0 L536.3,302.5 L536.8,304.0 L537.4,305.5 L538.0,307.1 L538.6,308.6 L539.1,310.2 L539.7,311.8 L540.3,313.4 L540.8,315.0 L541.4,316.6 L542.0,318.2 L542.5,319.9 L543.1,321.5 L543.7,323.2 L544.3,324.9 L544.8,326.5 L545.4,328.2 L546.0,329.9 L546.5,331.7 L547.1,333.4 L547.7,335.1 L548.3,336.9 L548.8,338.7 L549.4,340.4 L550.0,342.2 L550.5,344.0 L551.1,345.8 L551.7,347.6 L552.3,349.5 L552.8,351.3 L553.4,353.2 L554.0,355.0 L554.5,356.9 L555.1,358.8 L555.7,360.7 L556.3,362.6 L556.8,364.5 L557.4,366.5 L558.0,368.4 L558.5,370.3 L559.1,372.3 L559.7,374.3 L560.2,376.3 L560.8,378.2 L561.4,380.3 L562.0,382.3 L562.5,384.3 L563.1,386.3 L563.7,388.4 L564.2,390.4 L564.8,392.5 L565.4,394.6 L566.0,396.6 L566.5,398.7 L567.1,400.9 L567.7,403.0 L568.2,405.1 L568.8,407.2 L569.4,409.4 L570.0,411.5 L570.5,413.7 L571.1,415.9 L571.5,417.3 L571.9,418.8 L572.2,420.3 L572.6,421.7 L573.0,423.2 L573.4,424.7 L573.8,426.2 L574.1,427.6 L574.5,429.1 L574.9,430.6 L575.3,432.1 L575.7,433.6 L576.0,435.1 L576.4,436.7 L576.4,436.7" fill="none" stroke="#6a5be6" stroke-width="1.35"/>
<path d="M59.3,181.9 L60.8,181.9 L62.3,181.9 L63.9,181.9 L65.4,181.9 L66.9,182.0 L68.4,182.0 L70.0,182.0 L71.5,182.0 L73.0,182.0 L74.5,182.1 L76.0,182.1 L77.6,182.1 L79.1,182.1 L80.6,182.1 L82.1,182.2 L83.7,182.2 L85.2,182.2 L86.7,182.2 L88.2,182.2 L89.8,182.2 L91.3,182.3 L92.8,182.3 L94.3,182.3 L95.8,182.3 L97.4,182.3 L98.9,182.4 L100.4,182.4 L101.9,182.4 L103.5,182.4 L105.0,182.4 L106.5,182.5 L108.0,182.5 L109.5,182.5 L111.1,182.5 L112.6,182.5 L114.1,182.5 L115.6,182.6 L117.2,182.6 L118.7,182.6 L120.2,182.6 L121.7,182.6 L123.3,182.7 L124.8,182.7 L126.3,182.7 L127.8,182.7 L129.3,182.7 L130.9,182.8 L132.4,182.8 L133.9,182.8 L135.4,182.8 L137.0,182.8 L138.5,182.8 L140.0,182.9 L141.5,182.9 L143.0,182.9 L144.6,182.9 L146.1,182.9 L147.6,183.0 L149.1,183.0 L150.7,183.0 L152.2,183.0 L153.7,183.0 L155.2,183.0 L156.7,183.1 L158.3,183.1 L159.8,183.1 L161.3,183.1 L162.8,183.1 L164.4,183.2 L165.9,183.2 L167.4,183.2 L168.9,183.2 L170.5,183.2 L172.0,183.3 L173.5,183.3 L175.0,183.3 L176.5,183.3 L178.1,183.3 L179.6,183.3 L181.1,183.4 L182.6,183.4 L184.2,183.4 L185.7,183.4 L187.2,183.4 L188.7,183.5 L190.2,183.5 L191.8,183.5 L193.3,183.5 L194.8,183.5 L196.3,183.6 L197.9,183.6 L199.4,183.6 L200.9,183.6 L202.4,183.6 L204.0,183.6 L205.5,183.7 L207.0,183.7 L208.5,183.7 L210.0,183.7 L211.6,183.7 L213.1,183.8 L214.6,183.8 L216.1,183.8 L217.7,183.8 L219.2,183.8 L220.7,183.9 L222.2,183.9 L223.7,183.9 L225.3,183.9 L226.8,183.9 L228.3,183.9 L229.8,184.0 L231.4,184.0 L232.9,184.0 L234.4,184.0 L235.9,184.0 L237.4,184.1 L239.0,184.1 L240.5,184.1 L242.0,184.1 L243.5,184.1 L245.1,184.2 L246.6,184.2 L248.1,184.2 L249.6,184.2 L251.2,184.2 L252.7,184.2 L254.2,184.3 L255.7,184.3 L257.2,184.3 L258.8,184.3 L260.3,184.3 L261.8,184.4 L263.3,184.4 L264.9,184.4 L266.4,184.4 L267.9,184.4 L269.4,184.5 L270.9,184.5 L272.5,184.5 L274.0,184.5 L275.5,184.5 L277.0,184.5 L278.6,184.6 L280.1,184.6 L281.6,184.6 L283.1,184.6 L284.7,184.6 L286.2,184.7 L287.7,184.7 L289.2,184.7 L290.7,184.7 L292.3,184.7 L293.8,184.8 L295.3,184.8 L296.8,184.8 L298.4,184.8 L299.9,184.8 L301.4,184.8 L302.9,184.9 L304.4,184.9 L306.0,184.9 L307.5,184.9 L309.0,184.9 L310.5,185.0 L312.1,185.0 L313.6,185.0 L315.1,185.0 L316.6,185.0 L318.1,185.1 L319.7,185.1 L321.2,185.1 L322.7,185.1 L324.2,185.1 L325.8,185.2 L327.3,185.2 L328.8,185.2 L330.3,185.2 L331.9,185.2 L333.4,185.3 L334.9,185.3 L336.4,185.3 L337.9,185.3 L339.5,185.4 L341.0,185.4 L342.5,185.4 L344.0,185.4 L345.6,185.4 L347.1,185.5 L348.6,185.5 L350.1,185.5 L351.6,185.5 L353.2,185.6 L354.7,185.6 L356.2,185.6 L357.7,185.6 L359.3,185.7 L360.8,185.7 L362.3,185.7 L363.8,185.7 L365.4,185.8 L366.9,185.8 L368.4,185.8 L369.9,185.9 L371.4,185.9 L373.0,185.9 L374.5,186.0 L376.0,186.0 L377.5,186.0 L379.1,186.1 L380.6,186.1 L382.1,186.2 L383.6,186.2 L385.1,186.3 L386.7,186.3 L388.2,186.3 L389.7,186.4 L391.2,186.5 L392.8,186.5 L394.3,186.6 L395.8,186.6 L397.3,186.7 L398.8,186.8 L400.4,186.8 L401.9,186.9 L403.4,187.0 L404.9,187.1 L406.5,187.2 L408.0,187.2 L409.5,187.3 L411.0,187.4 L412.6,187.6 L414.1,187.7 L415.6,187.8 L417.1,187.9 L418.6,188.1 L420.2,188.2 L421.7,188.4 L423.2,188.5 L424.7,188.7 L426.3,188.9 L427.8,189.1 L429.3,189.3 L430.8,189.5 L432.3,189.8 L433.9,190.0 L435.4,190.3 L436.9,190.6 L438.4,190.9 L440.0,191.2 L441.5,191.6 L443.0,191.9 L444.5,192.3 L446.1,192.7 L447.6,193.2 L449.1,193.6 L450.6,194.1 L452.1,194.6 L453.7,195.2 L455.2,195.8 L456.7,196.4 L458.2,197.1 L459.8,197.7 L461.3,198.5 L462.8,199.3 L464.1,200.0 L465.5,200.7 L466.8,201.5 L468.1,202.3 L469.5,203.2 L470.8,204.1 L472.1,205.0 L473.5,206.0 L474.8,207.0 L476.1,208.1 L477.5,209.2 L478.6,210.2 L479.7,211.2 L480.9,212.3 L482.0,213.4 L483.2,214.5 L484.3,215.7 L485.4,216.9 L486.6,218.1 L487.7,219.4 L488.9,220.7 L490.0,222.1 L491.0,223.2 L491.9,224.4 L492.9,225.6 L493.8,226.9 L494.8,228.1 L495.7,229.4 L496.7,230.8 L497.6,232.1 L498.6,233.5 L499.5,234.9 L500.5,236.4 L501.4,237.8 L502.4,239.3 L503.3,240.8 L504.3,242.4 L505.2,244.0 L506.2,245.6 L507.0,246.9 L507.7,248.2 L508.5,249.6 L509.2,250.9 L510.0,252.3 L510.8,253.7 L511.5,255.1 L512.3,256.5 L513.0,258.0 L513.8,259.4 L514.6,260.9 L515.3,262.4 L516.1,263.9 L516.9,265.5 L517.6,267.0 L518.4,268.6 L519.1,270.2 L519.9,271.8 L520.7,273.4 L521.4,275.0 L522.2,276.6 L522.9,278.3 L523.7,280.0 L524.5,281.7 L525.2,283.4 L526.0,285.1 L526.8,286.8 L527.5,288.6 L528.3,290.4 L529.0,292.2 L529.8,294.0 L530.6,295.8 L531.3,297.6 L532.1,299.4 L532.7,300.8 L533.2,302.2 L533.8,303.6 L534.4,305.0 L534.9,306.5 L535.5,307.9 L536.1,309.3 L536.6,310.8 L537.2,312.2 L537.8,313.7 L538.4,315.2 L538.9,316.6 L539.5,318.1 L540.1,319.6 L540.6,321.1 L541.2,322.6 L541.8,324.1 L542.4,325.6 L542.9,327.1 L543.5,328.7 L544.1,330.2 L544.6,331.8 L545.2,333.3 L545.8,334.9 L546.4,336.4 L546.9,338.0 L547.5,339.6 L548.1,341.2 L548.6,342.7 L549.2,344.3 L549.8,345.9 L550.4,347.5 L550.9,349.2 L551.5,350.8 L552.1,352.4 L552.6,354.0 L553.2,355.7 L553.8,357.3 L554.3,359.0 L554.9,360.6 L555.5,362.3 L556.1,363.9 L556.6,365.6 L557.2,367.3 L557.8,369.0 L558.3,370.7 L558.9,372.4 L559.5,374.1 L560.1,375.8 L560.6,377.5 L561.2,379.2 L561.8,380.9 L562.3,382.6 L562.9,384.4 L563.5,386.1 L564.1,387.8 L564.6,389.6 L565.2,391.3 L565.8,393.1 L566.3,394.9 L566.9,396.6 L567.5,398.4 L568.1,400.2 L568.6,401.9 L569.2,403.7 L569.8,405.5 L570.3,407.3 L570.9,409.1 L571.5,410.9 L572.0,412.7 L572.6,414.5 L573.2,416.3 L573.8,418.1 L574.3,420.0 L574.9,421.8 L575.5,423.6 L576.0,425.5 L576.6,427.3 L577.2,429.1 L577.8,431.0 L578.3,432.8 L578.9,434.7 L579.5,436.6 L579.5,436.7" fill="none" stroke="#5ad860" stroke-width="1.5"/>
<path d="M59.3,436.7 L60.6,435.7 L62.0,434.6 L63.3,433.6 L64.6,432.6 L66.0,431.5 L67.3,430.5 L68.6,429.5 L70.0,428.5 L71.3,427.4 L72.6,426.4 L74.0,425.4 L75.3,424.3 L76.6,423.3 L78.0,422.3 L79.3,421.3 L80.6,420.2 L81.9,419.2 L83.3,418.2 L84.6,417.1 L85.9,416.1 L87.3,415.1 L88.6,414.1 L89.9,413.0 L91.3,412.0 L92.6,411.0 L93.9,409.9 L95.3,408.9 L96.6,407.9 L97.9,406.9 L99.3,405.8 L100.6,404.8 L101.9,403.8 L103.3,402.7 L104.6,401.7 L105.9,400.7 L107.3,399.7 L108.6,398.6 L109.9,397.6 L111.3,396.6 L112.6,395.6 L113.9,394.5 L115.3,393.5 L116.6,392.5 L117.9,391.4 L119.3,390.4 L120.6,389.4 L121.9,388.4 L123.3,387.3 L124.6,386.3 L125.9,385.3 L127.2,384.3 L128.6,383.2 L129.9,382.2 L131.2,381.2 L132.6,380.2 L133.9,379.1 L135.2,378.1 L136.6,377.1 L137.9,376.0 L139.2,375.0 L140.6,374.0 L141.9,373.0 L143.2,371.9 L144.6,370.9 L145.9,369.9 L147.2,368.9 L148.6,367.8 L149.9,366.8 L151.2,365.8 L152.6,364.8 L153.9,363.7 L155.2,362.7 L156.6,361.7 L157.9,360.7 L159.2,359.6 L160.6,358.6 L161.9,357.6 L163.2,356.6 L164.6,355.5 L165.9,354.5 L167.2,353.5 L168.5,352.5 L169.9,351.4 L171.2,350.4 L172.5,349.4 L173.9,348.4 L175.2,347.4 L176.5,346.3 L177.9,345.3 L179.2,344.3 L180.5,343.3 L181.9,342.2 L183.2,341.2 L184.5,340.2 L185.9,339.2 L187.2,338.1 L188.5,337.1 L189.9,336.1 L191.2,335.1 L192.5,334.1 L193.9,333.0 L195.2,332.0 L196.5,331.0 L197.9,330.0 L199.2,328.9 L200.5,327.9 L201.9,326.9 L203.2,325.9 L204.5,324.8 L205.9,323.8 L207.2,322.8 L208.5,321.8 L209.9,320.8 L211.2,319.7 L212.5,318.7 L213.8,317.7 L215.2,316.7 L216.5,315.7 L217.8,314.6 L219.2,313.6 L220.5,312.6 L221.8,311.6 L223.2,310.5 L224.5,309.5 L225.8,308.5 L227.2,307.5 L228.5,306.5 L229.8,305.4 L231.2,304.4 L232.5,303.4 L233.8,302.4 L235.2,301.4 L236.5,300.3 L237.8,299.3 L239.2,298.3 L240.5,297.3 L241.8,296.3 L243.2,295.2 L244.5,294.2 L245.8,293.2 L247.2,292.2 L248.5,291.2 L249.8,290.1 L251.2,289.1 L252.5,288.1 L253.8,287.1 L255.1,286.1 L256.5,285.0 L257.8,284.0 L259.1,283.0 L260.5,282.0 L261.8,281.0 L263.1,280.0 L264.5,278.9 L265.8,277.9 L267.1,276.9 L268.5,275.9 L269.8,274.9 L271.1,273.8 L272.5,272.8 L273.8,271.8 L275.1,270.8 L276.5,269.8 L277.8,268.7 L279.1,267.7 L280.5,266.7 L281.8,265.7 L283.1,264.7 L284.5,263.7 L285.8,262.6 L287.1,261.6 L288.5,260.6 L289.8,259.6 L291.1,258.6 L292.5,257.6 L293.8,256.5 L295.1,255.5 L296.5,254.5 L297.8,253.5 L299.1,252.5 L300.4,251.5 L301.8,250.4 L303.1,249.4 L304.4,248.4 L305.8,247.4 L307.1,246.4 L308.4,245.4 L309.8,244.3 L311.1,243.3 L312.4,242.3 L313.8,241.3 L315.1,240.3 L316.4,239.3 L317.8,238.3 L319.1,237.2 L320.4,236.2 L321.8,235.2 L323.1,234.2 L324.4,233.2 L325.8,232.2 L327.1,231.2 L328.4,230.1 L329.8,229.1 L331.1,228.1 L332.4,227.1 L333.8,226.1 L335.1,225.1 L336.4,224.1 L337.8,223.1 L339.1,222.0 L340.4,221.0 L341.7,220.0 L343.1,219.0 L344.4,218.0 L345.7,217.0 L347.1,216.0 L348.4,215.0 L349.7,214.0 L351.1,212.9 L352.4,211.9 L353.7,210.9 L355.1,209.9 L356.4,208.9 L357.7,207.9 L359.1,206.9 L360.4,205.9 L361.7,204.9 L363.1,203.9 L364.4,202.9 L365.7,201.9 L367.1,200.9 L368.4,199.9 L369.7,198.9 L371.1,197.9 L372.4,196.9 L373.7,195.9 L375.1,194.9 L376.4,193.9 L377.7,192.9 L379.1,191.9 L380.4,190.9 L381.7,189.9 L383.1,188.9 L384.4,187.9 L385.7,186.9 L387.0,185.9 L388.4,184.9 L389.7,184.0 L391.0,183.0 L392.4,182.0 L393.7,181.0 L395.0,180.1 L396.4,179.1 L397.7,178.1 L399.0,177.2 L400.4,176.2 L401.7,175.2 L403.0,174.3 L404.4,173.3 L405.7,172.4 L407.0,171.4 L408.4,170.5 L409.7,169.6 L411.0,168.6 L412.4,167.7 L413.7,166.8 L415.0,165.9 L416.4,165.0 L417.7,164.1 L419.0,163.2 L420.4,162.3 L421.7,161.4 L423.0,160.5 L424.4,159.7 L425.7,158.8 L427.0,158.0 L428.4,157.2 L429.7,156.4 L431.0,155.6 L432.3,154.8 L433.7,154.0 L435.0,153.2 L436.3,152.5 L437.7,151.7 L439.0,151.0 L440.3,150.3 L441.9,149.6 L443.4,148.8 L444.9,148.1 L446.4,147.4 L448.0,146.8 L449.5,146.2 L451.0,145.6 L452.5,145.0 L454.0,144.5 L455.6,144.1 L457.1,143.7 L458.6,143.3 L460.1,143.0 L461.7,142.7 L463.2,142.5 L464.7,142.3 L466.2,142.3 L467.7,142.2 L469.3,142.3 L470.8,142.4 L472.3,142.6 L473.8,142.8 L475.4,143.2 L476.9,143.6 L478.4,144.1 L479.9,144.7 L481.5,145.4 L483.0,146.1 L484.3,146.9 L485.6,147.7 L487.0,148.6 L488.3,149.6 L489.6,150.7 L490.8,151.7 L491.9,152.7 L493.1,153.8 L494.2,155.0 L495.3,156.2 L496.5,157.5 L497.6,158.9 L498.6,160.1 L499.5,161.3 L500.5,162.6 L501.4,163.9 L502.4,165.3 L503.3,166.7 L504.3,168.2 L505.2,169.7 L506.2,171.3 L507.1,172.9 L507.9,174.2 L508.7,175.6 L509.4,176.9 L510.2,178.4 L511.0,179.8 L511.7,181.3 L512.5,182.8 L513.2,184.4 L514.0,185.9 L514.8,187.6 L515.5,189.2 L516.3,190.9 L517.0,192.6 L517.8,194.3 L518.6,196.1 L519.3,197.9 L520.1,199.7 L520.7,201.1 L521.2,202.5 L521.8,203.9 L522.4,205.4 L522.9,206.9 L523.5,208.3 L524.1,209.8 L524.7,211.4 L525.2,212.9 L525.8,214.4 L526.4,216.0 L526.9,217.6 L527.5,219.2 L528.1,220.8 L528.7,222.5 L529.2,224.1 L529.8,225.8 L530.4,227.5 L530.9,229.2 L531.5,230.9 L532.1,232.7 L532.7,234.5 L533.2,236.2 L533.8,238.0 L534.4,239.8 L534.9,241.7 L535.5,243.5 L536.1,245.4 L536.6,247.3 L537.2,249.2 L537.8,251.1 L538.4,253.0 L538.9,255.0 L539.5,256.9 L540.1,258.9 L540.6,260.9 L541.2,262.9 L541.8,264.9 L542.4,267.0 L542.9,269.1 L543.5,271.1 L544.1,273.2 L544.6,275.3 L545.2,277.5 L545.8,279.6 L546.4,281.8 L546.9,284.0 L547.3,285.4 L547.7,286.9 L548.1,288.4 L548.4,289.8 L548.8,291.3 L549.2,292.8 L549.6,294.3 L550.0,295.8 L550.4,297.4 L550.7,298.9 L551.1,300.4 L551.5,301.9 L551.9,303.5 L552.3,305.0 L552.6,306.6 L553.0,308.2 L553.4,309.7 L553.8,311.3 L554.2,312.9 L554.5,314.5 L554.9,316.1 L555.3,317.7 L555.7,319.3 L556.1,320.9 L556.4,322.6 L556.8,324.2 L557.2,325.8 L557.6,327.5 L558.0,329.1 L558.3,330.8 L558.7,332.4 L559.1,334.1 L559.5,335.8 L559.9,337.5 L560.2,339.2 L560.6,340.9 L561.0,342.6 L561.4,344.3 L561.8,346.0 L562.2,347.7 L562.5,349.5 L562.9,351.2 L563.3,353.0 L563.7,354.7 L564.1,356.5 L564.4,358.2 L564.8,360.0 L565.2,361.8 L565.6,363.6 L566.0,365.4 L566.3,367.2 L566.7,369.0 L567.1,370.8 L567.5,372.6 L567.9,374.4 L568.2,376.2 L568.6,378.1 L569.0,379.9 L569.4,381.8 L569.8,383.6 L570.1,385.5 L570.5,387.3 L570.9,389.2 L571.3,391.1 L571.7,393.0 L572.0,394.9 L572.4,396.8 L572.8,398.7 L573.2,400.6 L573.6,402.5 L574.0,404.4 L574.3,406.3 L574.7,408.3 L575.1,410.2 L575.5,412.2 L575.9,414.1 L576.2,416.1 L576.6,418.0 L577.0,420.0 L577.4,422.0 L577.8,424.0 L578.1,426.0 L578.5,428.0 L578.9,430.0 L579.3,432.0 L579.7,434.0 L580.0,436.0 L580.2,436.7" fill="none" stroke="#2f7a30" stroke-width="1.4"/>
<path d="M59.3,114.4 L60.8,114.4 L62.3,114.4 L63.9,114.4 L65.4,114.5 L66.9,114.5 L68.4,114.5 L70.0,114.5 L71.5,114.5 L73.0,114.6 L74.5,114.6 L76.0,114.6 L77.6,114.6 L79.1,114.7 L80.6,114.7 L82.1,114.7 L83.7,114.7 L85.2,114.8 L86.7,114.8 L88.2,114.8 L89.8,114.8 L91.3,114.8 L92.8,114.9 L94.3,114.9 L95.8,114.9 L97.4,114.9 L98.9,115.0 L100.4,115.0 L101.9,115.0 L103.5,115.0 L105.0,115.0 L106.5,115.1 L108.0,115.1 L109.5,115.1 L111.1,115.1 L112.6,115.2 L114.1,115.2 L115.6,115.2 L117.2,115.2 L118.7,115.2 L120.2,115.3 L121.7,115.3 L123.3,115.3 L124.8,115.3 L126.3,115.4 L127.8,115.4 L129.3,115.4 L130.9,115.4 L132.4,115.5 L133.9,115.5 L135.4,115.5 L137.0,115.5 L138.5,115.5 L140.0,115.6 L141.5,115.6 L143.0,115.6 L144.6,115.6 L146.1,115.7 L147.6,115.7 L149.1,115.7 L150.7,115.7 L152.2,115.7 L153.7,115.8 L155.2,115.8 L156.7,115.8 L158.3,115.8 L159.8,115.9 L161.3,115.9 L162.8,115.9 L164.4,115.9 L165.9,116.0 L167.4,116.0 L168.9,116.0 L170.5,116.0 L172.0,116.0 L173.5,116.1 L175.0,116.1 L176.5,116.1 L178.1,116.1 L179.6,116.2 L181.1,116.2 L182.6,116.2 L184.2,116.2 L185.7,116.2 L187.2,116.3 L188.7,116.3 L190.2,116.3 L191.8,116.3 L193.3,116.4 L194.8,116.4 L196.3,116.4 L197.9,116.4 L199.4,116.4 L200.9,116.5 L202.4,116.5 L204.0,116.5 L205.5,116.5 L207.0,116.6 L208.5,116.6 L210.0,116.6 L211.6,116.6 L213.1,116.7 L214.6,116.7 L216.1,116.7 L217.7,116.7 L219.2,116.7 L220.7,116.8 L222.2,116.8 L223.7,116.8 L225.3,116.8 L226.8,116.9 L228.3,116.9 L229.8,116.9 L231.4,116.9 L232.9,116.9 L234.4,117.0 L235.9,117.0 L237.4,117.0 L239.0,117.0 L240.5,117.1 L242.0,117.1 L243.5,117.1 L245.1,117.1 L246.6,117.2 L248.1,117.2 L249.6,117.2 L251.2,117.2 L252.7,117.2 L254.2,117.3 L255.7,117.3 L257.2,117.3 L258.8,117.3 L260.3,117.4 L261.8,117.4 L263.3,117.4 L264.9,117.4 L266.4,117.4 L267.9,117.5 L269.4,117.5 L270.9,117.5 L272.5,117.5 L274.0,117.6 L275.5,117.6 L277.0,117.6 L278.6,117.6 L280.1,117.7 L281.6,117.7 L283.1,117.7 L284.7,117.7 L286.2,117.7 L287.7,117.8 L289.2,117.8 L290.7,117.8 L292.3,117.8 L293.8,117.9 L295.3,117.9 L296.8,117.9 L298.4,117.9 L299.9,118.0 L301.4,118.0 L302.9,118.0 L304.4,118.0 L306.0,118.0 L307.5,118.1 L309.0,118.1 L310.5,118.1 L312.1,118.1 L313.6,118.2 L315.1,118.2 L316.6,118.2 L318.1,118.2 L319.7,118.3 L321.2,118.3 L322.7,118.3 L324.2,118.3 L325.8,118.4 L327.3,118.4 L328.8,118.4 L330.3,118.4 L331.9,118.5 L333.4,118.5 L334.9,118.5 L336.4,118.5 L337.9,118.6 L339.5,118.6 L341.0,118.6 L342.5,118.6 L344.0,118.7 L345.6,118.7 L347.1,118.7 L348.6,118.8 L350.1,118.8 L351.6,118.8 L353.2,118.8 L354.7,118.9 L356.2,118.9 L357.7,118.9 L359.3,119.0 L360.8,119.0 L362.3,119.0 L363.8,119.1 L365.4,119.1 L366.9,119.1 L368.4,119.2 L369.9,119.2 L371.4,119.2 L373.0,119.3 L374.5,119.3 L376.0,119.4 L377.5,119.4 L379.1,119.5 L380.6,119.5 L382.1,119.5 L383.6,119.6 L385.1,119.6 L386.7,119.7 L388.2,119.8 L389.7,119.8 L391.2,119.9 L392.8,119.9 L394.3,120.0 L395.8,120.1 L397.3,120.1 L398.8,120.2 L400.4,120.3 L401.9,120.4 L403.4,120.5 L404.9,120.6 L406.5,120.6 L408.0,120.7 L409.5,120.9 L411.0,121.0 L412.6,121.1 L414.1,121.2 L415.6,121.3 L417.1,121.5 L418.6,121.6 L420.2,121.8 L421.7,121.9 L423.2,122.1 L424.7,122.3 L426.3,122.5 L427.8,122.7 L429.3,122.9 L430.8,123.1 L432.3,123.4 L433.9,123.7 L435.4,123.9 L436.9,124.2 L438.4,124.5 L440.0,124.9 L441.5,125.2 L443.0,125.6 L444.5,126.0 L446.1,126.4 L447.6,126.8 L449.1,127.3 L450.6,127.8 L452.1,128.3 L453.7,128.9 L455.2,129.4 L456.7,130.1 L458.2,130.7 L459.8,131.4 L461.3,132.2 L462.8,132.9 L464.1,133.7 L465.5,134.4 L466.8,135.2 L468.1,136.0 L469.5,136.9 L470.8,137.8 L472.1,138.7 L473.5,139.7 L474.8,140.8 L476.1,141.9 L477.5,143.0 L478.6,144.0 L479.7,145.1 L480.9,146.1 L482.0,147.3 L483.2,148.4 L484.3,149.6 L485.4,150.9 L486.6,152.2 L487.7,153.5 L488.9,154.9 L489.8,156.1 L490.8,157.3 L491.7,158.5 L492.7,159.8 L493.6,161.1 L494.6,162.5 L495.5,163.9 L496.5,165.3 L497.4,166.7 L498.4,168.2 L499.3,169.7 L500.3,171.3 L501.2,172.9 L502.0,174.2 L502.8,175.5 L503.5,176.8 L504.3,178.2 L505.1,179.6 L505.8,181.0 L506.6,182.4 L507.3,183.9 L508.1,185.4 L508.9,186.9 L509.6,188.4 L510.4,189.9 L511.1,191.5 L511.9,193.1 L512.7,194.7 L513.4,196.4 L514.2,198.0 L515.0,199.7 L515.7,201.4 L516.5,203.2 L517.2,204.9 L518.0,206.7 L518.8,208.5 L519.5,210.4 L520.3,212.2 L520.9,213.6 L521.4,215.0 L522.0,216.5 L522.6,217.9 L523.1,219.3 L523.7,220.8 L524.3,222.3 L524.8,223.8 L525.4,225.3 L526.0,226.8 L526.6,228.3 L527.1,229.9 L527.7,231.4 L528.3,233.0 L528.8,234.6 L529.4,236.1 L530.0,237.7 L530.6,239.4 L531.1,241.0 L531.7,242.6 L532.3,244.3 L532.8,245.9 L533.4,247.6 L534.0,249.3 L534.6,251.0 L535.1,252.7 L535.7,254.4 L536.3,256.1 L536.8,257.9 L537.4,259.6 L538.0,261.4 L538.6,263.1 L539.1,264.9 L539.7,266.7 L540.3,268.5 L540.8,270.3 L541.4,272.2 L542.0,274.0 L542.5,275.9 L543.1,277.7 L543.7,279.6 L544.3,281.5 L544.8,283.3 L545.4,285.2 L546.0,287.2 L546.5,289.1 L547.1,291.0 L547.7,292.9 L548.3,294.9 L548.8,296.8 L549.4,298.8 L550.0,300.8 L550.5,302.8 L551.1,304.8 L551.7,306.8 L552.3,308.8 L552.8,310.8 L553.4,312.8 L554.0,314.9 L554.5,316.9 L555.1,319.0 L555.7,321.1 L556.3,323.1 L556.8,325.2 L557.4,327.3 L558.0,329.4 L558.5,331.5 L559.1,333.7 L559.7,335.8 L560.2,337.9 L560.8,340.1 L561.4,342.2 L562.0,344.4 L562.5,346.5 L563.1,348.7 L563.5,350.2 L563.9,351.6 L564.2,353.1 L564.6,354.6 L565.0,356.0 L565.4,357.5 L565.8,359.0 L566.1,360.5 L566.5,361.9 L566.9,363.4 L567.3,364.9 L567.7,366.4 L568.1,367.9 L568.4,369.4 L568.8,370.9 L569.2,372.4 L569.6,373.9 L570.0,375.4 L570.3,376.9 L570.7,378.5 L571.1,380.0 L571.5,381.5 L571.9,383.0 L572.2,384.6 L572.6,386.1 L573.0,387.6 L573.4,389.2 L573.8,390.7 L574.1,392.3 L574.5,393.8 L574.9,395.4 L575.3,396.9 L575.7,398.5 L576.0,400.0 L576.4,401.6 L576.8,403.2 L577.2,404.7 L577.6,406.3 L577.9,407.9 L578.3,409.5 L578.7,411.0 L579.1,412.6 L579.5,414.2 L579.9,415.8 L580.2,417.4 L580.6,419.0 L581.0,420.6 L581.4,422.2 L581.8,423.8 L582.1,425.4 L582.5,427.0 L582.9,428.6 L583.3,430.2 L583.7,431.8 L584.0,433.4 L584.4,435.1 L584.8,436.7 L584.8,436.7" fill="none" stroke="#ff6a60" stroke-width="1.45"/>
<path d="M59.3,436.7 L60.4,435.6 L61.6,434.6 L62.7,433.5 L63.9,432.4 L65.0,431.4 L66.2,430.3 L67.3,429.2 L68.4,428.2 L69.6,427.1 L70.7,426.0 L71.9,425.0 L73.0,423.9 L74.1,422.8 L75.3,421.8 L76.4,420.7 L77.6,419.6 L78.7,418.6 L79.9,417.5 L81.0,416.4 L82.1,415.4 L83.3,414.3 L84.4,413.2 L85.6,412.2 L86.7,411.1 L87.8,410.1 L89.0,409.0 L90.1,407.9 L91.3,406.9 L92.4,405.8 L93.6,404.7 L94.7,403.7 L95.8,402.6 L97.0,401.5 L98.1,400.5 L99.3,399.4 L100.4,398.3 L101.6,397.3 L102.7,396.2 L103.8,395.1 L105.0,394.1 L106.1,393.0 L107.3,391.9 L108.4,390.9 L109.5,389.8 L110.7,388.8 L111.8,387.7 L113.0,386.6 L114.1,385.6 L115.3,384.5 L116.4,383.4 L117.5,382.4 L118.7,381.3 L119.8,380.2 L121.0,379.2 L122.1,378.1 L123.3,377.0 L124.4,376.0 L125.5,374.9 L126.7,373.9 L127.8,372.8 L129.0,371.7 L130.1,370.7 L131.2,369.6 L132.4,368.5 L133.5,367.5 L134.7,366.4 L135.8,365.4 L137.0,364.3 L138.1,363.2 L139.2,362.2 L140.4,361.1 L141.5,360.0 L142.7,359.0 L143.8,357.9 L144.9,356.8 L146.1,355.8 L147.2,354.7 L148.4,353.7 L149.5,352.6 L150.7,351.5 L151.8,350.5 L152.9,349.4 L154.1,348.3 L155.2,347.3 L156.4,346.2 L157.5,345.2 L158.7,344.1 L159.8,343.0 L160.9,342.0 L162.1,340.9 L163.2,339.8 L164.4,338.8 L165.5,337.7 L166.6,336.7 L167.8,335.6 L168.9,334.5 L170.1,333.5 L171.2,332.4 L172.4,331.3 L173.5,330.3 L174.6,329.2 L175.8,328.2 L176.9,327.1 L178.1,326.0 L179.2,325.0 L180.3,323.9 L181.5,322.9 L182.6,321.8 L183.8,320.7 L184.9,319.7 L186.1,318.6 L187.2,317.5 L188.3,316.5 L189.5,315.4 L190.6,314.4 L191.8,313.3 L192.9,312.2 L194.1,311.2 L195.2,310.1 L196.3,309.1 L197.5,308.0 L198.6,306.9 L199.8,305.9 L200.9,304.8 L202.0,303.8 L203.2,302.7 L204.3,301.6 L205.5,300.6 L206.6,299.5 L207.8,298.5 L208.9,297.4 L210.0,296.3 L211.2,295.3 L212.3,294.2 L213.5,293.2 L214.6,292.1 L215.8,291.0 L216.9,290.0 L218.0,288.9 L219.2,287.9 L220.3,286.8 L221.5,285.7 L222.6,284.7 L223.7,283.6 L224.9,282.6 L226.0,281.5 L227.2,280.4 L228.3,279.4 L229.5,278.3 L230.6,277.3 L231.7,276.2 L232.9,275.1 L234.0,274.1 L235.2,273.0 L236.3,272.0 L237.4,270.9 L238.6,269.8 L239.7,268.8 L240.9,267.7 L242.0,266.7 L243.2,265.6 L244.3,264.5 L245.4,263.5 L246.6,262.4 L247.7,261.4 L248.9,260.3 L250.0,259.3 L251.2,258.2 L252.3,257.1 L253.4,256.1 L254.6,255.0 L255.7,254.0 L256.9,252.9 L258.0,251.8 L259.1,250.8 L260.3,249.7 L261.4,248.7 L262.6,247.6 L263.7,246.6 L264.9,245.5 L266.0,244.4 L267.1,243.4 L268.3,242.3 L269.4,241.3 L270.6,240.2 L271.7,239.1 L272.9,238.1 L274.0,237.0 L275.1,236.0 L276.3,234.9 L277.4,233.9 L278.6,232.8 L279.7,231.7 L280.8,230.7 L282.0,229.6 L283.1,228.6 L284.3,227.5 L285.4,226.5 L286.6,225.4 L287.7,224.3 L288.8,223.3 L290.0,222.2 L291.1,221.2 L292.3,220.1 L293.4,219.1 L294.5,218.0 L295.7,216.9 L296.8,215.9 L298.0,214.8 L299.1,213.8 L300.3,212.7 L301.4,211.7 L302.5,210.6 L303.7,209.6 L304.8,208.5 L306.0,207.4 L307.1,206.4 L308.3,205.3 L309.4,204.3 L310.5,203.2 L311.7,202.2 L312.8,201.1 L314.0,200.0 L315.1,199.0 L316.2,197.9 L317.4,196.9 L318.5,195.8 L319.7,194.8 L320.8,193.7 L322.0,192.7 L323.1,191.6 L324.2,190.6 L325.4,189.5 L326.5,188.4 L327.7,187.4 L328.8,186.3 L329.9,185.3 L331.1,184.2 L332.2,183.2 L333.4,182.1 L334.5,181.1 L335.7,180.0 L336.8,179.0 L337.9,177.9 L339.1,176.9 L340.2,175.8 L341.4,174.8 L342.5,173.7 L343.7,172.6 L344.8,171.6 L345.9,170.5 L347.1,169.5 L348.2,168.4 L349.4,167.4 L350.5,166.3 L351.6,165.3 L352.8,164.2 L353.9,163.2 L355.1,162.1 L356.2,161.1 L357.4,160.0 L358.5,159.0 L359.6,157.9 L360.8,156.9 L361.9,155.8 L363.1,154.8 L364.2,153.8 L365.4,152.7 L366.5,151.7 L367.6,150.6 L368.8,149.6 L369.9,148.5 L371.1,147.5 L372.2,146.4 L373.3,145.4 L374.5,144.4 L375.6,143.3 L376.8,142.3 L377.9,141.2 L379.1,140.2 L380.2,139.2 L381.3,138.1 L382.5,137.1 L383.6,136.0 L384.8,135.0 L385.9,134.0 L387.0,132.9 L388.2,131.9 L389.3,130.9 L390.5,129.9 L391.6,128.8 L392.8,127.8 L393.9,126.8 L395.0,125.8 L396.2,124.7 L397.3,123.7 L398.5,122.7 L399.6,121.7 L400.8,120.7 L401.9,119.7 L403.0,118.7 L404.2,117.7 L405.3,116.7 L406.5,115.7 L407.6,114.7 L408.7,113.7 L409.9,112.7 L411.0,111.7 L412.2,110.7 L413.3,109.7 L414.5,108.8 L415.8,107.6 L417.1,106.5 L418.5,105.4 L419.8,104.3 L421.1,103.2 L422.4,102.1 L423.8,101.0 L425.1,99.9 L426.4,98.9 L427.8,97.8 L429.1,96.8 L430.4,95.7 L431.8,94.7 L433.1,93.7 L434.4,92.7 L435.8,91.7 L437.1,90.8 L438.4,89.8 L439.8,88.9 L441.1,88.0 L442.4,87.1 L443.8,86.2 L445.1,85.3 L446.4,84.5 L447.8,83.7 L449.1,82.9 L450.4,82.2 L451.8,81.5 L453.1,80.8 L454.6,80.0 L456.1,79.3 L457.7,78.6 L459.2,78.0 L460.7,77.4 L462.2,76.9 L463.8,76.5 L465.3,76.1 L466.8,75.7 L468.3,75.5 L469.8,75.3 L471.4,75.2 L472.9,75.1 L474.4,75.1 L475.9,75.3 L477.5,75.5 L479.0,75.7 L480.5,76.1 L482.0,76.6 L483.5,77.2 L485.1,77.9 L486.4,78.6 L487.7,79.4 L489.1,80.2 L490.4,81.2 L491.7,82.2 L492.9,83.2 L494.0,84.3 L495.2,85.4 L496.3,86.6 L497.4,87.8 L498.6,89.2 L499.5,90.3 L500.5,91.6 L501.4,92.9 L502.4,94.2 L503.3,95.6 L504.3,97.0 L505.2,98.5 L506.2,100.1 L507.1,101.7 L507.9,103.0 L508.7,104.4 L509.4,105.8 L510.2,107.3 L511.0,108.8 L511.7,110.3 L512.5,111.8 L513.2,113.4 L514.0,115.1 L514.8,116.7 L515.5,118.5 L516.3,120.2 L517.0,122.0 L517.8,123.8 L518.4,125.2 L518.9,126.6 L519.5,128.1 L520.1,129.5 L520.7,131.0 L521.2,132.5 L521.8,134.0 L522.4,135.6 L522.9,137.1 L523.5,138.7 L524.1,140.3 L524.7,142.0 L525.2,143.6 L525.8,145.3 L526.4,147.0 L526.9,148.7 L527.5,150.5 L528.1,152.2 L528.7,154.0 L529.2,155.8 L529.8,157.6 L530.4,159.5 L530.9,161.4 L531.5,163.2 L532.1,165.2 L532.7,167.1 L533.2,169.0 L533.8,171.0 L534.4,173.0 L534.9,175.0 L535.5,177.1 L536.1,179.1 L536.6,181.2 L537.2,183.3 L537.8,185.4 L538.4,187.6 L538.9,189.7 L539.3,191.2 L539.7,192.7 L540.1,194.1 L540.5,195.6 L540.8,197.1 L541.2,198.6 L541.6,200.1 L542.0,201.6 L542.4,203.2 L542.7,204.7 L543.1,206.3 L543.5,207.8 L543.9,209.4 L544.3,211.0 L544.6,212.5 L545.0,214.1 L545.4,215.7 L545.8,217.3 L546.2,219.0 L546.5,220.6 L546.9,222.2 L547.3,223.9 L547.7,225.5 L548.1,227.2 L548.4,228.9 L548.8,230.5 L549.2,232.2 L549.6,233.9 L550.0,235.6 L550.4,237.4 L550.7,239.1 L551.1,240.8 L551.5,242.6 L551.9,244.3 L552.3,246.1 L552.6,247.8 L553.0,249.6 L553.4,251.4 L553.8,253.2 L554.2,255.0 L554.5,256.8 L554.9,258.6 L555.3,260.5 L555.7,262.3 L556.1,264.1 L556.4,266.0 L556.8,267.9 L557.2,269.7 L557.6,271.6 L558.0,273.5 L558.3,275.4 L558.7,277.3 L559.1,279.2 L559.5,281.1 L559.9,283.1 L560.2,285.0 L560.6,286.9 L561.0,288.9 L561.4,290.9 L561.8,292.8 L562.2,294.8 L562.5,296.8 L562.9,298.8 L563.3,300.8 L563.7,302.8 L564.1,304.8 L564.4,306.9 L564.8,308.9 L565.2,310.9 L565.6,313.0 L566.0,315.0 L566.3,317.1 L566.7,319.2 L567.1,321.3 L567.5,323.4 L567.9,325.5 L568.2,327.6 L568.6,329.7 L569.0,331.8 L569.4,334.0 L569.8,336.1 L570.1,338.2 L570.5,340.4 L570.9,342.6 L571.3,344.7 L571.7,346.9 L572.0,349.1 L572.4,351.3 L572.8,353.5 L573.2,355.7 L573.6,357.9 L574.0,360.2 L574.3,362.4 L574.7,364.6 L575.1,366.9 L575.5,369.1 L575.9,371.4 L576.2,373.7 L576.6,376.0 L577.0,378.2 L577.4,380.5 L577.8,382.8 L578.1,385.2 L578.5,387.5 L578.9,389.8 L579.3,392.1 L579.7,394.5 L580.0,396.8 L580.4,399.2 L580.8,401.5 L581.2,403.9 L581.6,406.3 L581.9,408.7 L582.3,411.1 L582.7,413.5 L583.1,415.9 L583.5,418.3 L583.8,420.7 L584.2,423.1 L584.6,425.6 L585.0,428.0 L585.4,430.5 L585.8,432.9 L586.1,435.4 L586.3,436.7" fill="none" stroke="#d42a24" stroke-width="1.35"/>

<path d="M471.00,85.60 C470.38,95.08 468.35,121.55 467.30,142.50 C466.25,163.45 465.78,185.73 464.70,211.30 C463.62,236.87 463.32,270.83 460.80,295.90 C458.28,320.97 451.47,350.73 449.60,361.70" fill="none" stroke="#b0246a" stroke-width="1.3" stroke-dasharray="2.6 2.6"/>
<path d="M470.90,146.60 C470.38,155.80 468.82,181.95 467.80,201.80 C466.78,221.65 465.95,244.65 464.80,265.70 C463.65,286.75 463.43,309.10 460.90,328.10 C458.37,347.10 451.48,371.10 449.60,379.70" fill="none" stroke="#4f80f5" stroke-width="1.3" stroke-dasharray="2.4 2.8"/>
<path d="M471.1,77.6 L473.0,83.6 L469.2,83.6 Z" fill="#a0155e"/>
<path d="M471.0,140.2 L472.2,145.5 L469.8,145.5 Z" fill="#3a6cf0"/>

<circle cx="449.6" cy="361.7" r="1.9" fill="#d0d0d0" stroke="#585858" stroke-width="1.05"/><circle cx="460.8" cy="295.9" r="1.9" fill="#d0d0d0" stroke="#585858" stroke-width="1.05"/><circle cx="464.7" cy="211.3" r="1.9" fill="#d0d0d0" stroke="#585858" stroke-width="1.05"/><circle cx="467.3" cy="142.5" r="1.9" fill="#d0d0d0" stroke="#585858" stroke-width="1.05"/><circle cx="471.1" cy="75.0" r="1.9" fill="#d0d0d0" stroke="#585858" stroke-width="1.05"/><circle cx="449.6" cy="379.7" r="1.9" fill="#f2f23c" stroke="#6464d8" stroke-width="1"/><circle cx="460.9" cy="328.1" r="1.9" fill="#f2f23c" stroke="#6464d8" stroke-width="1"/><circle cx="464.8" cy="265.7" r="1.9" fill="#f2f23c" stroke="#6464d8" stroke-width="1"/><circle cx="467.8" cy="201.8" r="1.9" fill="#f2f23c" stroke="#6464d8" stroke-width="1"/><circle cx="471.0" cy="137.8" r="1.9" fill="#f2f23c" stroke="#6464d8" stroke-width="1"/>
<circle cx="433.6" cy="142.2" r="1.1" fill="#dccfe0"/>
<rect x="59.30" y="4.90" width="570.90" height="431.80" fill="none" stroke="#303030" stroke-width="1.6"/>

<g font-size="17">
<text x="60.9" y="110.5" fill="#ff1f1f">1000</text><text transform="translate(93.7,110.5) scale(0.93,1)" fill="#ff1f1f">W</text><text x="108.8" y="110.5" fill="#ff1f1f">/</text><text x="114.2" y="110.5" fill="#ff1f1f">m</text><text x="127.0" y="103.6" font-size="11" fill="#ff1f1f">2</text>
<text x="61.4" y="179.0" fill="#3ccc3c">800</text><text transform="translate(86.0,179.0) scale(0.93,1)" fill="#3ccc3c">W</text><text x="101.1" y="179.0" fill="#3ccc3c">/</text><text x="106.5" y="179.0" fill="#3ccc3c">m</text><text x="119.3" y="172.1" font-size="11" fill="#3ccc3c">2</text>
<text x="61.4" y="247.6" fill="#1a7ee8">600</text><text transform="translate(85.7,247.6) scale(0.93,1)" fill="#1a7ee8">W</text><text x="100.8" y="247.6" fill="#1a7ee8">/</text><text x="106.2" y="247.6" fill="#1a7ee8">m</text><text x="119.0" y="240.7" font-size="11" fill="#1a7ee8">2</text>
<text x="61.4" y="314.9" fill="#b43ce6">400</text><text transform="translate(86.0,314.9) scale(0.93,1)" fill="#b43ce6">W</text><text x="101.1" y="314.9" fill="#b43ce6">/</text><text x="106.5" y="314.9" fill="#b43ce6">m</text><text x="119.3" y="308.0" font-size="11" fill="#b43ce6">2</text>
<text x="61.4" y="370.3" fill="#ec8c34">200</text><text transform="translate(86.0,370.3) scale(0.93,1)" fill="#ec8c34">W</text><text x="101.1" y="370.3" fill="#ec8c34">/</text><text x="106.5" y="370.3" fill="#ec8c34">m</text><text x="119.3" y="363.4" font-size="11" fill="#ec8c34">2</text>
</g>
<g font-size="18.3">
<text x="420.2" y="75.4" font-size="18.6" fill="#c41c1c">MPP</text>
<text x="418.0" y="143.7" fill="#1e6e1e">MPP</text>
<text x="419.8" y="209.5" fill="#2c18c4">MPP</text>
<text x="418.3" y="293.6" fill="#8414bc">MPP</text>
<text x="410.7" y="358.6" fill="#d06c14">MPP</text>
</g>
<text x="38.6" y="120.7" font-size="19" font-style="italic" fill="#111">I</text>
<text x="46.1" y="124.1" font-size="11.2" fill="#111">sc</text>
<text x="561.5" y="454.1" font-size="18.2" font-style="italic" fill="#111">V</text>
<text x="572.0" y="457.1" font-size="12.5" fill="#111">oc</text>

<g font-size="18.5" fill="#111" text-anchor="end">
<text x="52.5" y="13.5">12.5</text>
<text x="52.5" y="97.1">10.0</text>
<text x="52.8" y="184.4">7.5</text>
<text x="52.5" y="270.4">5.0</text>
<text x="52.2" y="356.6">2.5</text>
<text x="52.7" y="442.6">0.0</text>
</g>
<g font-size="18.5" fill="#111" text-anchor="start">
<text x="636.8" y="13.4">400</text>
<text x="636.3" y="96.6">320</text>
<text x="636.3" y="184.1">240</text>
<text x="636.6" y="269.8">160</text>
<text x="636.3" y="356.4">80</text>
<text x="636.0" y="441.1">0</text>
</g>
<g font-size="18.5" fill="#111" text-anchor="middle">
<text x="61" y="456">0</text>
<text x="173.25" y="456">10</text>
<text x="288" y="456">20</text>
<text x="401.65" y="456">30</text>
<text x="516.45" y="456">40</text>
<text x="625.7" y="456">50</text>
</g>
<text x="347" y="474.8" font-size="18" text-anchor="middle" fill="#111">Voltage (V)</text>
<text transform="translate(13.6,221.8) rotate(-90)" font-size="18" text-anchor="middle" fill="#111">Current (A)</text>
<text transform="translate(681,220.65) rotate(-90)" font-size="17.7" text-anchor="middle" fill="#111">Power (W)</text>
</svg>
</body></html>
